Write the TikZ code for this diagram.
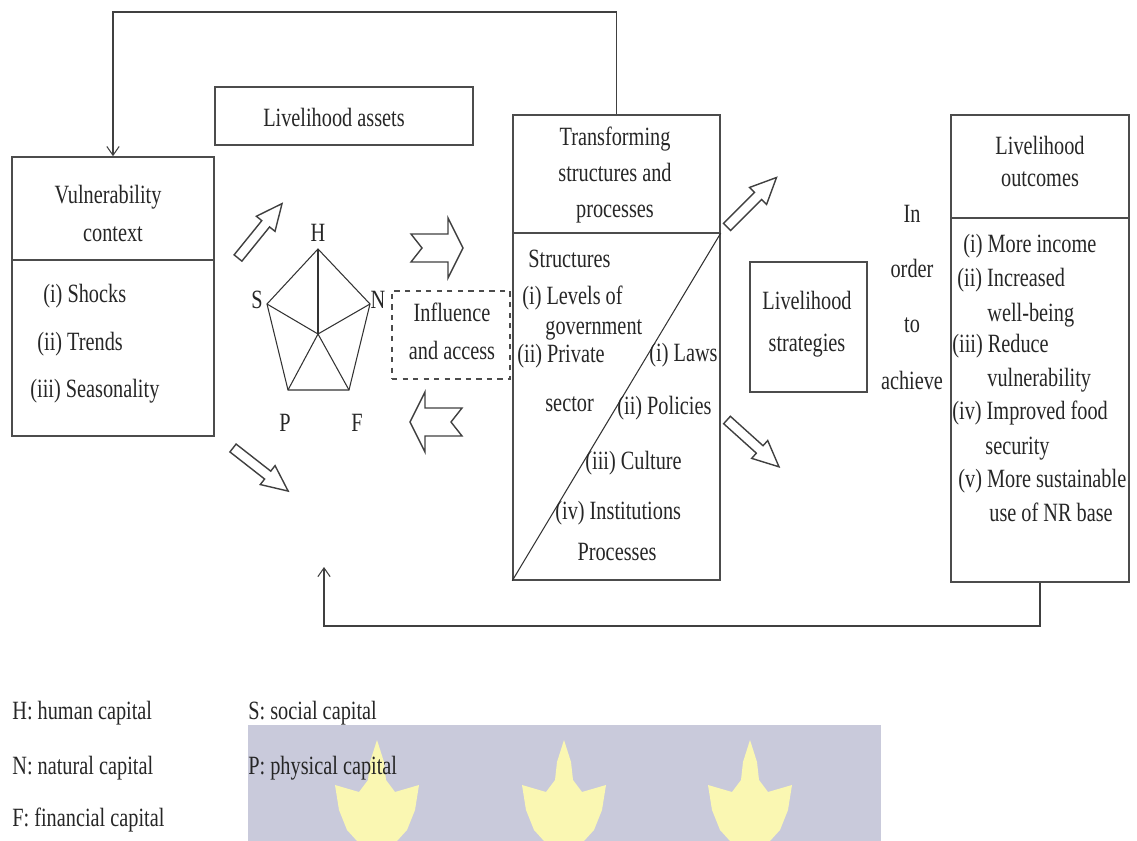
\documentclass[tikz,border=0pt]{standalone}
\usepackage{fontspec}
\setmainfont{Liberation Serif}[FakeStretch=0.77]
\usepackage{xcolor}
\usetikzlibrary{arrows.meta, positioning}

\definecolor{wmback}{HTML}{C9CADB}
\definecolor{wmflame}{HTML}{FAF7B2}
\newcommand{\pxu}{0.02cm}

\begin{document}
\begin{tikzpicture}[
    x=\pxu, y=-\pxu,
    txt/.style={font=\fontsize{15}{18}\selectfont, text=black!85, inner sep=0pt, anchor=mid},
    ltxt/.style={txt, anchor=mid west},
    rtxt/.style={txt, anchor=mid east},
    ctxt/.style={txt, anchor=center},
    box/.style={draw=black!70, line width=0.9pt, inner sep=0pt},
    box_line/.style={draw=black!70, line width=0.9pt},
    thin_line/.style={draw=black!80, line width=0.6pt},
    fb/.style={draw=black!75, line width=0.6pt, -{Straight Barb[length=5pt, width=7pt]}},
    hollow/.style={draw=black!75, line width=0.8pt, fill=white, line join=miter},
    blockarrow/.pic={
      \draw[hollow] (0,-5) -- (44,-5) -- (44,-12) -- (70,0) -- (44,12) -- (44,5) -- (0,5) -- cycle;
    },
    chevron/.pic={
      \draw[hollow] (0,-14) -- (37,-14) -- (37,-30) -- (52,0) -- (37,30) -- (37,14) -- (0,14) -- (11,0) -- cycle;
    }
  ]
  \useasboundingbox (0,0) rectangle (1137,841);

  % 1. Watermark in the background
  \fill[wmback] (248,725) rectangle (881,841);
  \foreach \cx in {377, 564, 750} {
    \fill[wmflame, shift={(\cx,740)}] (0,0) -- (7,22) -- (9,40) -- (18,52) -- (42,45) -- (38,70)
      -- (30,90) -- (20,101) -- (-20,101) -- (-30,90) -- (-38,70) -- (-42,45) -- (-18,52)
      -- (-9,40) -- (-7,22) -- cycle;
  }

  % 2. Boxes
  \node[box, minimum width=202*\pxu, minimum height=279*\pxu] (vul) at (113,296.5) {};
  \draw[box_line] (vul.west |- 0,260) -- (vul.east |- 0,260);
  \node[box, minimum width=258*\pxu, minimum height=58*\pxu] (assets) at (344,116) {};
  \node[box, minimum width=207*\pxu, minimum height=465*\pxu] (trans) at (616.5,347.5) {};
  \draw[box_line] (trans.west |- 0,233) coordinate (transdiv) -- (trans.east |- 0,233) coordinate (transcorner);
  \draw[thin_line] (trans.south west) -- (transcorner);
  \node[box, minimum width=117*\pxu, minimum height=130*\pxu] (strat) at (808.5,327) {};
  \node[box, minimum width=178*\pxu, minimum height=467*\pxu] (out) at (1040,348.5) {};
  \draw[box_line] (out.west |- 0,218) -- (out.east |- 0,218);
  \node[box, dashed, minimum width=118*\pxu, minimum height=88*\pxu] (infl) at (451,335) {};

  % 3. Feedback loops
  \coordinate (topbar) at (0,12);
  \draw[fb] (trans.north) -- (trans.north |- topbar) -| (vul.north);
  \coordinate (botbar) at (0,626);
  \coordinate (fbtip) at (324,567);
  \draw[fb] (out.south) -- (out.south |- botbar) -| (fbtip);

  % 4. Asset pentagon
  \coordinate (H) at (318,249);
  \coordinate (N) at (370,304);
  \coordinate (F) at (349,390);
  \coordinate (P) at (288,390);
  \coordinate (S) at (267,304);
  \coordinate (C) at (318,334);
  \draw[thin_line] (H) -- (N) -- (F) -- (P) -- (S) -- cycle;
  \foreach \v in {H,N,F,P,S}
    \draw[thin_line] (C) -- (\v);
  \node[ctxt] (lblH) at (318,233) {H};
  \node[ctxt] (lblS) at (257,300) {S};
  \node[ctxt] (lblN) at (378,300) {N};
  \node[ctxt] (lblP) at (285,423) {P};
  \node[ctxt] (lblF) at (357,423) {F};

  % 5. Hollow arrows
  \pic[rotate=51] at (238,258) {blockarrow};
  \pic[rotate=-38] at (233,448) {blockarrow};
  \pic[rotate=45] at (727,227) {blockarrow};
  \pic[rotate=-42] at (727,420) {blockarrow};
  \pic at (411,248) {chevron};
  \pic[rotate=180] at (462,422) {chevron};

  % 6. Texts
  \node[txt] (vul1) at (108,199) {Vulnerability};
  \node[txt] (vul2) at (113,237) {context};
  \foreach \t/\x/\y [count=\i] in {(i) Shocks/43/298, (ii) Trends/37/346, (iii) Seasonality/30/393}
    \node[ltxt] (vulitem\i) at (\x,\y) {\t};

  \node[txt] (assetstxt) at (334,122) {Livelihood assets};
  \node[txt] (infl1) at (452,317) {Influence};
  \node[txt] (infl2) at (452,355) {and access};

  \foreach \t/\y [count=\i] in {Transforming/141, structures and/177, processes/213}
    \node[txt] (trans\i) at (615,\y) {\t};
  \foreach \t/\x/\y [count=\i] in {Structures/528/263, (i) Levels of/522/300, government/545/330,
      (ii) Private/517/358, sector/545/407, (ii) Policies/617/410, (iii) Culture/585/465,
      (iv) Institutions/555/515}
    \node[ltxt] (transitem\i) at (\x,\y) {\t};
  \node[rtxt] (laws) at (718,357) {(i) Laws};
  \node[txt] (processes) at (617,556) {Processes};

  \node[txt] (strat1) at (807,305) {Livelihood};
  \node[txt] (strat2) at (807,347) {strategies};
  \foreach \t/\y [count=\i] in {In/218, order/273, to/328, achieve/385}
    \node[txt] (achieve\i) at (912,\y) {\t};

  \node[txt] (out1) at (1040,150) {Livelihood};
  \node[txt] (out2) at (1040,182) {outcomes};
  \foreach \t/\x/\y [count=\i] in {(i) More income/963/248, (ii) Increased/957/282, well-being/987/317,
      (iii) Reduce/952/348, vulnerability/987/382, (iv) Improved food/952/415, security/985/450,
      (v) More sustainable/958/483, use of NR base/989/517}
    \node[ltxt] (outitem\i) at (\x,\y) {\t};

  % 7. Legend
  \foreach \t/\x/\y [count=\i] in {H: human capital/12/715, N: natural capital/12/770,
      F: financial capital/12/822, S: social capital/248/715, P: physical capital/248/770}
    \node[ltxt] (legend\i) at (\x,\y) {\t};

\end{tikzpicture}
\end{document}
